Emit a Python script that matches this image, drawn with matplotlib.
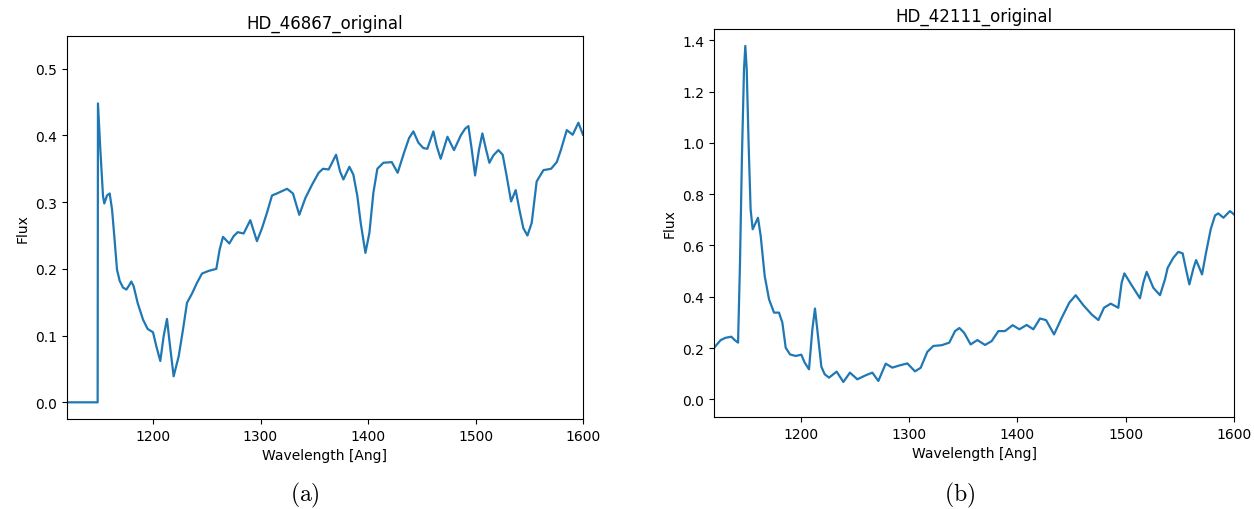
import numpy as np
import matplotlib.pyplot as plt

# HD_46867 spectrum
wave_a = [1120.0, 1148.5, 1148.8, 1151.0, 1153.5, 1154.7, 1157.2, 1159.7, 1161.9, 1164.0,
          1166.5, 1169.0, 1172.1, 1175.2, 1177.7, 1179.8, 1182.0, 1185.7, 1190.7, 1195.0,
          1200.0, 1203.1, 1206.8, 1209.9, 1213.0, 1215.5, 1219.2, 1223.9, 1227.9, 1231.6,
          1236.3, 1240.9, 1245.6, 1251.8, 1258.9, 1262.0, 1265.1, 1271.0, 1275.0, 1278.8,
          1284.3, 1290.5, 1296.7, 1301.4, 1306.0, 1310.7, 1315.3, 1324.7, 1330.2, 1333.3,
          1336.1, 1341.7, 1347.9, 1354.1, 1358.1, 1363.4, 1370.3, 1374.0, 1377.1, 1382.7,
          1386.4, 1390.1, 1393.2, 1397.6, 1401.3, 1405.0, 1408.7, 1414.3, 1422.1, 1427.6,
          1433.5, 1438.2, 1442.2, 1446.9, 1451.5, 1455.2, 1460.8, 1463.9, 1467.6, 1473.9,
          1480.0, 1486.3, 1490.3, 1493.4, 1496.5, 1499.6, 1503.3, 1506.4, 1509.8, 1512.9,
          1516.6, 1521.3, 1525.3, 1529.0, 1533.1, 1537.4, 1540.8, 1544.5, 1548.3, 1552.3,
          1556.9, 1563.2, 1570.3, 1575.6, 1579.6, 1584.9, 1590.4, 1595.7, 1600.0]
flux_a = [0.0, 0.0, 0.448, 0.379, 0.309, 0.298, 0.31, 0.313, 0.289, 0.249,
          0.199, 0.182, 0.172, 0.169, 0.175, 0.181, 0.174, 0.149, 0.124, 0.110,
          0.105, 0.084, 0.062, 0.099, 0.125, 0.089, 0.039, 0.069, 0.109, 0.149,
          0.163, 0.179, 0.193, 0.197, 0.200, 0.229, 0.248, 0.238, 0.249, 0.255,
          0.253, 0.273, 0.2415, 0.261, 0.284, 0.31, 0.313, 0.32, 0.313, 0.296,
          0.281, 0.306, 0.326, 0.344, 0.350, 0.349, 0.371, 0.346, 0.334, 0.353,
          0.341, 0.309, 0.269, 0.224, 0.254, 0.314, 0.350, 0.359, 0.360, 0.344,
          0.374, 0.396, 0.406, 0.389, 0.381, 0.380, 0.406, 0.384, 0.365, 0.398,
          0.378, 0.400, 0.410, 0.414, 0.379, 0.340, 0.379, 0.403, 0.379, 0.359,
          0.370, 0.378, 0.371, 0.339, 0.301, 0.318, 0.289, 0.261, 0.250, 0.269,
          0.331, 0.348, 0.350, 0.360, 0.379, 0.408, 0.401, 0.419, 0.401]

# HD_42111 spectrum
wave_b = [1120.0, 1121.5, 1126.2, 1130.8, 1136.0, 1139.1, 1142.2, 1144.0, 1145.8, 1147.7,
          1148.9, 1150.2, 1152.0, 1153.8, 1155.7, 1158.2, 1160.6, 1163.1, 1166.8, 1170.8,
          1175.4, 1180.0, 1183.1, 1186.2, 1190.2, 1195.4, 1200.6, 1203.7, 1207.7, 1210.8,
          1213.2, 1216.0, 1219.1, 1222.2, 1226.2, 1233.2, 1239.4, 1245.5, 1252.3, 1260.0,
          1266.2, 1271.7, 1278.5, 1284.6, 1291.7, 1298.5, 1305.5, 1310.8, 1316.9, 1322.5,
          1330.2, 1337.2, 1342.5, 1346.5, 1350.8, 1356.9, 1363.1, 1370.2, 1376.3, 1382.5,
          1388.6, 1395.7, 1401.9, 1408.6, 1414.8, 1420.9, 1426.5, 1433.9, 1441.0, 1448.0,
          1453.9, 1460.9, 1468.6, 1474.8, 1480.0, 1486.2, 1493.2, 1496.3, 1498.8, 1505.5,
          1513.2, 1516.3, 1519.4, 1525.5, 1531.7, 1536.3, 1538.8, 1544.0, 1548.6, 1552.6,
          1555.7, 1558.8, 1562.5, 1565.0, 1568.0, 1570.5, 1574.2, 1578.5, 1582.5, 1585.5,
          1590.2, 1596.3, 1600.0]
flux_b = [0.200, 0.208, 0.231, 0.240, 0.244, 0.231, 0.221, 0.533, 0.949, 1.287,
          1.378, 1.287, 0.988, 0.741, 0.663, 0.686, 0.708, 0.637, 0.481, 0.390,
          0.338, 0.338, 0.299, 0.201, 0.175, 0.169, 0.174, 0.143, 0.117, 0.273,
          0.354, 0.247, 0.127, 0.0975, 0.0845, 0.108, 0.0676, 0.104, 0.078, 0.0936,
          0.104, 0.0715, 0.139, 0.1235, 0.1326, 0.140, 0.109, 0.123, 0.185, 0.208,
          0.211, 0.221, 0.266, 0.278, 0.260, 0.214, 0.231, 0.212, 0.227, 0.266,
          0.266, 0.289, 0.273, 0.290, 0.273, 0.315, 0.309, 0.253, 0.318, 0.377,
          0.406, 0.367, 0.331, 0.309, 0.357, 0.373, 0.357, 0.455, 0.491, 0.445,
          0.394, 0.455, 0.497, 0.435, 0.406, 0.468, 0.513, 0.552, 0.575, 0.569,
          0.507, 0.448, 0.510, 0.543, 0.513, 0.487, 0.572, 0.663, 0.717, 0.725,
          0.708, 0.734, 0.721]

xticks = [1200, 1300, 1400, 1500, 1600]

plt.rcParams['mathtext.fontset'] = 'cm'

fig = plt.figure(figsize=(12.54, 5.10), dpi=100)
W, H = 1254, 510
ax1 = fig.add_axes([67 / W, 1 - 420 / H, 516 / W, 383 / H])
ax2 = fig.add_axes([714 / W, 1 - 418 / H, 520 / W, 388 / H])

ax1.plot(wave_a, flux_a, color='tab:blue', lw=1.6)
ax1.set_xlim(1120, 1600)
ax1.set_ylim(-0.025, 0.549)
ax1.set_xticks(xticks)
ax1.set_title('HD_46867_original')
ax1.set_xlabel('Wavelength [Ang]')
ax1.set_ylabel('Flux')

ax2.plot(wave_b, flux_b, color='tab:blue', lw=1.6)
ax2.set_xlim(1120, 1600)
ax2.set_ylim(-0.069, 1.444)
ax2.set_xticks(xticks)
ax2.set_title('HD_42111_original')
ax2.set_xlabel('Wavelength [Ang]')
ax2.set_ylabel('Flux')

fig.text(305 / W, 1 - 495 / H, r'$(\mathrm{a})$', fontsize=17, ha='center', va='center')
fig.text(960 / W, 1 - 495 / H, r'$(\mathrm{b})$', fontsize=17, ha='center', va='center')

fig.savefig('out.png', dpi=100)
